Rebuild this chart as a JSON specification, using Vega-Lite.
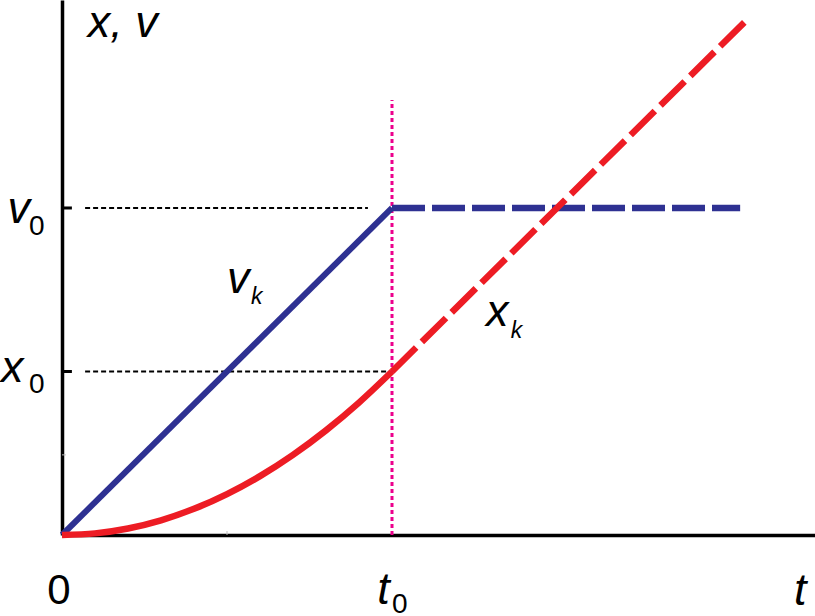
{
  "$schema": "https://vega.github.io/schema/vega-lite/v6.json",
  "width": 753,
  "height": 535,
  "autosize": {"type": "none"},
  "padding": {"left": 62, "top": 0, "right": 0, "bottom": 81},
  "background": "white",
  "config": {"view": {"stroke": null}},
  "datasets": {
    "parabola": [
      {"t": 0, "y": 0}, {"t": 0.1, "y": 0.005}, {"t": 0.2, "y": 0.02}, {"t": 0.3, "y": 0.045},
      {"t": 0.4, "y": 0.08}, {"t": 0.5, "y": 0.125}, {"t": 0.6, "y": 0.18}, {"t": 0.7, "y": 0.245},
      {"t": 0.8, "y": 0.32}, {"t": 0.9, "y": 0.405}, {"t": 1.0, "y": 0.5}
    ],
    "xdash": [{"t": 1.0, "y": 0.5}, {"t": 2.07, "y": 1.57}],
    "vsolid": [{"t": 0, "y": 0}, {"t": 1.0, "y": 1.0}],
    "vdash": [{"t": 1.0, "y": 1.0}, {"t": 2.055, "y": 1.0}],
    "guides": [
      {"t": 0.07, "t2": 0.927, "y": 1.0},
      {"t": 0.07, "t2": 0.985, "y": 0.5}
    ],
    "ticks": [
      {"t": 0, "t2": 0.03, "y": 1.0},
      {"t": 0, "t2": 0.03, "y": 0.5}
    ],
    "faintY": [{"t": 0, "t2": 0.012, "y": 0.245}],
    "faintX": [{"t": 0.5, "y": 0, "y2": 0.012}],
    "vline": [{"t": 1.0, "y": 0, "y2": 1.33}],
    "bigItalic": [
      {"t": 0.078, "y": 1.523, "label": "x, v"},
      {"t": -0.165, "y": 0.954, "label": "v"},
      {"t": -0.185, "y": 0.468, "label": "x"},
      {"t": 0.955, "y": -0.211, "label": "t"},
      {"t": 2.218, "y": -0.214, "label": "t"},
      {"t": 0.5, "y": 0.74, "label": "v"},
      {"t": 1.285, "y": 0.639, "label": "x"}
    ],
    "bigUpright": [{"t": -0.045, "y": -0.211, "label": "0"}],
    "subUpright": [
      {"t": -0.1, "y": 0.917, "label": "0"},
      {"t": -0.1, "y": 0.434, "label": "0"},
      {"t": 1.0, "y": -0.238, "label": "0"}
    ],
    "subItalic": [
      {"t": 0.573, "y": 0.707, "label": "k"},
      {"t": 1.36, "y": 0.602, "label": "k"}
    ]
  },
  "layer": [
    {
      "data": {"name": "vline"},
      "mark": {"type": "rule", "color": "#ec008c", "strokeWidth": 3, "strokeDash": [4, 3]},
      "encoding": {
        "x": {"field": "t", "type": "quantitative", "scale": {"domain": [0, 2.2818], "nice": false, "zero": false},
              "axis": {"title": null, "labels": false, "ticks": false, "grid": false, "domainColor": "black", "domainWidth": 3.5}},
        "y": {"field": "y", "type": "quantitative", "scale": {"domain": [0, 1.636], "nice": false, "zero": false},
              "axis": {"title": null, "labels": false, "ticks": false, "grid": false, "domainColor": "black", "domainWidth": 3.5}},
        "y2": {"field": "y2"}
      }
    },
    {
      "data": {"name": "guides"},
      "mark": {"type": "rule", "color": "black", "strokeWidth": 2.2, "strokeDash": [5, 3]},
      "encoding": {
        "x": {"field": "t", "type": "quantitative"},
        "x2": {"field": "t2"},
        "y": {"field": "y", "type": "quantitative"}
      }
    },
    {
      "data": {"name": "ticks"},
      "mark": {"type": "rule", "color": "black", "strokeWidth": 3},
      "encoding": {
        "x": {"field": "t", "type": "quantitative"},
        "x2": {"field": "t2"},
        "y": {"field": "y", "type": "quantitative"}
      }
    },
    {
      "data": {"name": "faintY"},
      "mark": {"type": "rule", "color": "#bbbbbb", "strokeWidth": 1},
      "encoding": {
        "x": {"field": "t", "type": "quantitative"},
        "x2": {"field": "t2"},
        "y": {"field": "y", "type": "quantitative"}
      }
    },
    {
      "data": {"name": "faintX"},
      "mark": {"type": "rule", "color": "#bbbbbb", "strokeWidth": 1},
      "encoding": {
        "x": {"field": "t", "type": "quantitative"},
        "y": {"field": "y", "type": "quantitative"},
        "y2": {"field": "y2"}
      }
    },
    {
      "data": {"name": "vsolid"},
      "mark": {"type": "line", "color": "#2e3192", "strokeWidth": 6, "strokeCap": "butt"},
      "encoding": {
        "x": {"field": "t", "type": "quantitative"},
        "y": {"field": "y", "type": "quantitative"}
      }
    },
    {
      "data": {"name": "vdash"},
      "mark": {"type": "line", "color": "#2e3192", "strokeWidth": 6.5, "strokeDash": [33, 7], "strokeCap": "butt"},
      "encoding": {
        "x": {"field": "t", "type": "quantitative"},
        "y": {"field": "y", "type": "quantitative"}
      }
    },
    {
      "data": {"name": "parabola"},
      "mark": {"type": "line", "color": "#ed1c24", "strokeWidth": 6.5, "interpolate": "monotone", "strokeCap": "butt"},
      "encoding": {
        "x": {"field": "t", "type": "quantitative"},
        "y": {"field": "y", "type": "quantitative"}
      }
    },
    {
      "data": {"name": "xdash"},
      "mark": {"type": "line", "color": "#ed1c24", "strokeWidth": 6.5, "strokeDash": [34, 8], "strokeCap": "butt"},
      "encoding": {
        "x": {"field": "t", "type": "quantitative"},
        "y": {"field": "y", "type": "quantitative"}
      }
    },
    {
      "data": {"name": "bigItalic"},
      "mark": {"type": "text", "font": "Liberation Sans", "fontStyle": "italic", "fontSize": 45, "align": "left", "baseline": "alphabetic", "color": "black"},
      "encoding": {
        "x": {"field": "t", "type": "quantitative"},
        "y": {"field": "y", "type": "quantitative"},
        "text": {"field": "label"}
      }
    },
    {
      "data": {"name": "bigUpright"},
      "mark": {"type": "text", "font": "Liberation Sans", "fontSize": 42, "align": "left", "baseline": "alphabetic", "color": "black"},
      "encoding": {
        "x": {"field": "t", "type": "quantitative"},
        "y": {"field": "y", "type": "quantitative"},
        "text": {"field": "label"}
      }
    },
    {
      "data": {"name": "subUpright"},
      "mark": {"type": "text", "font": "Liberation Sans", "fontSize": 28, "align": "left", "baseline": "alphabetic", "color": "black"},
      "encoding": {
        "x": {"field": "t", "type": "quantitative"},
        "y": {"field": "y", "type": "quantitative"},
        "text": {"field": "label"}
      }
    },
    {
      "data": {"name": "subItalic"},
      "mark": {"type": "text", "font": "Liberation Sans", "fontStyle": "italic", "fontSize": 23, "align": "left", "baseline": "alphabetic", "color": "black"},
      "encoding": {
        "x": {"field": "t", "type": "quantitative"},
        "y": {"field": "y", "type": "quantitative"},
        "text": {"field": "label"}
      }
    }
  ]
}
